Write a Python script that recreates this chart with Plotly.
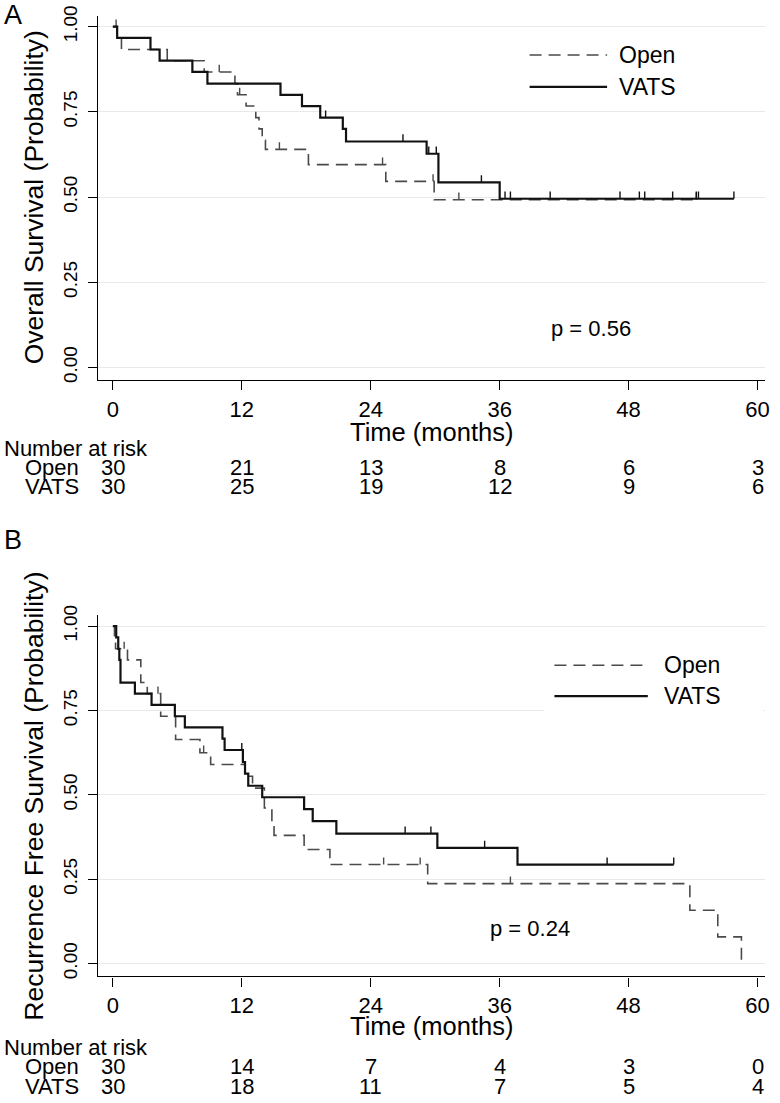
import plotly.graph_objects as go

W, H = 780, 1103
FONT = "Liberation Sans, Arial, Helvetica, sans-serif"

# ---------------- data ----------------
month_ticks = [0, 12, 24, 36, 48, 60]
surv_ticks = [0, 0.25, 0.5, 0.75, 1.0]
surv_ticklabels = ["0.00", "0.25", "0.50", "0.75", "1.00"]
groups = ["Open", "VATS"]

# Panel A: overall survival (event times in months, survival after the step)
os_open_t = [0.4, 0.8, 5.06, 8.5, 11.36, 11.6, 12.4, 13.3, 13.6, 13.9, 14.2, 18.2, 25.4, 29.9]
os_open_s = [0.967, 0.933, 0.900, 0.867, 0.833, 0.800, 0.767, 0.733, 0.700, 0.667, 0.640, 0.595, 0.546, 0.492]
os_open_end = 54.5
os_open_cens = [0.3, 9.9, 11.8, 15.5, 25.1, 29.8, 32.2, 54.3]

os_vats_t = [0.4, 3.5, 4.35, 7.4, 8.8, 15.6, 17.6, 19.3, 21.4, 21.7, 29.2, 30.3, 36.0]
os_vats_s = [0.967, 0.933, 0.900, 0.867, 0.833, 0.800, 0.767, 0.733, 0.700, 0.663, 0.627, 0.543, 0.495]
os_vats_end = 57.8
os_vats_cens = [19.8, 27.0, 29.4, 30.1, 34.3, 36.5, 37.0, 40.7, 47.2, 49.0, 49.5, 52.1, 54.3, 54.5, 57.8]

os_risk_open = [30, 21, 13, 8, 6, 3]
os_risk_vats = [30, 25, 19, 12, 9, 6]
os_pvalue = "p = 0.56"

# Panel B: recurrence free survival
rfs_open_t = [0.15, 0.25, 1.36, 2.6, 3.2, 4.45, 5.84, 8.1, 9.1, 12.3, 13.0, 14.1, 14.8, 15.0,
              17.8, 20.2, 29.3, 53.7, 56.3, 58.5]
rfs_open_s = [0.967, 0.933, 0.900, 0.833, 0.800, 0.733, 0.664, 0.625, 0.590, 0.555, 0.520, 0.461,
              0.420, 0.380, 0.338, 0.2935, 0.237, 0.158, 0.079, 0.0]
rfs_open_end = 58.5
rfs_open_cens = [1.05, 4.2, 8.45, 25.2, 28.6, 37.0]

rfs_vats_t = [0.31, 0.5, 0.6, 0.71, 2.05, 3.6, 5.77, 6.7, 10.2, 10.4, 12.1, 12.3, 12.6, 13.9,
              17.8, 18.6, 20.8, 30.2, 37.66]
rfs_vats_s = [0.967, 0.933, 0.900, 0.833, 0.800, 0.767, 0.733, 0.700, 0.667, 0.633, 0.597, 0.563,
              0.527, 0.493, 0.458, 0.422, 0.385, 0.343, 0.2935]
rfs_vats_end = 52.2
rfs_vats_cens = [12.0, 27.2, 29.6, 34.6, 46.0, 52.2]

rfs_risk_open = [30, 14, 7, 4, 3, 0]
rfs_risk_vats = [30, 18, 11, 7, 5, 4]
rfs_pvalue = "p = 0.24"

# ---------------- helpers ----------------
# layout positions are given in target-picture pixels; small vertical correction
# for the capture (content appears ~1% shorter and ~10px lower)
SY, OY = 0.991, 9.9

def px(x):
    return x / W

def py(y):
    return 1 - ((y - OY) / SY) / H

def step_xy(t, s, end):
    return [0] + list(t) + [end], [1.0] + list(s) + [s[-1]]

def level_at(t, s, c):
    lv = 1.0
    for ti, si in zip(t, s):
        if ti <= c:
            lv = si
    return lv

def cens_xy(t, s, cens, h):
    xs, ys = [], []
    for c in cens:
        lv = level_at(t, s, c)
        xs += [c, c, None]
        ys += [lv, lv + h, None]
    return xs, ys

OPEN_STYLE = dict(color="#4a4a4a", width=1.6, dash="12px,7px")
VATS_STYLE = dict(color="#111111", width=2.2)
TICK_H = 0.021

fig = go.Figure()

panels = [
    dict(xa="x", ya="y",
         curves=[(os_open_t, os_open_s, os_open_end, os_open_cens, OPEN_STYLE),
                 (os_vats_t, os_vats_s, os_vats_end, os_vats_cens, VATS_STYLE)]),
    dict(xa="x2", ya="y2",
         curves=[(rfs_open_t, rfs_open_s, rfs_open_end, rfs_open_cens, OPEN_STYLE),
                 (rfs_vats_t, rfs_vats_s, rfs_vats_end, rfs_vats_cens, VATS_STYLE)]),
]

for p in panels:
    for (t, s, end, cens, style) in p["curves"]:
        x, y = step_xy(t, s, end)
        fig.add_trace(go.Scatter(x=x, y=y, mode="lines", line=dict(shape="hv", **style),
                                 xaxis=p["xa"], yaxis=p["ya"], showlegend=False, hoverinfo="skip"))
        cx, cy = cens_xy(t, s, cens, TICK_H)
        fig.add_trace(go.Scatter(x=cx, y=cy, mode="lines",
                                 line=dict(color=style["color"], width=1.4),
                                 xaxis=p["xa"], yaxis=p["ya"], showlegend=False, hoverinfo="skip"))

# ---------------- axes ----------------
xdom = [px(99), px(770)]
common_x = dict(range=[-1.35, 60.7], tickvals=month_ticks, ticks="outside", ticklen=9,
                tickwidth=1.2, tickcolor="black", showline=True, linecolor="black", linewidth=1.3,
                showgrid=False, zeroline=False, domain=xdom,
                tickfont=dict(family=FONT, size=22, color="black"))
common_y = dict(tickvals=surv_ticks, ticktext=surv_ticklabels, tickangle=-90, ticks="outside",
                ticklen=9, tickwidth=1.2, tickcolor="black", showline=True, linecolor="black",
                linewidth=1.3, showgrid=True, gridcolor="#e9e9e9", gridwidth=1.2, zeroline=False,
                tickfont=dict(family=FONT, size=19, color="black"), ticklabelstandoff=4)

fig.update_layout(
    xaxis=dict(anchor="y", **common_x),
    yaxis=dict(anchor="x", domain=[py(381), py(16)], range=[-0.037, 1.031], **common_y),
    xaxis2=dict(anchor="y2", **common_x),
    yaxis2=dict(anchor="x2", domain=[py(979), py(617)], range=[-0.038, 1.032], **common_y),
)

# ---------------- annotations ----------------
ann = []

def text(x, y, s, size, xanchor="center", xref="paper", angle=0):
    ann.append(dict(x=x, y=y, xref=xref, yref="paper", text=s, showarrow=False,
                    xanchor=xanchor, yanchor="middle", textangle=angle,
                    font=dict(family=FONT, size=size, color="black")))

# panel letters
text(px(2), py(15), "A", 27, xanchor="left")
text(px(2), py(541), "B", 27, xanchor="left")

# axis titles
text(px(434), py(433), "Time (months)", 25.5)
text(px(434), py(1029), "Time (months)", 25.5)
text(px(34), py(198), "Overall Survival (Probability)", 26.5, angle=-90)
text(px(34), py(798), "Recurrence Free Survival (Probability)", 26.5, angle=-90)

# p-values
text(px(595), py(329), os_pvalue, 22)
text(px(533), py(931), rfs_pvalue, 22)

# number at risk tables
risk_tables = [
    ("x", 450, 469, 488, os_risk_open, os_risk_vats),
    ("x2", 1050, 1069, 1089, rfs_risk_open, rfs_risk_vats),
]
for xref, yh, yo, yv, r_open, r_vats in risk_tables:
    text(px(2), py(yh), "Number at risk", 22, xanchor="left")
    text(px(82), py(yo), groups[0], 22, xanchor="right")
    text(px(82), py(yv), groups[1], 22, xanchor="right")
    for m, a, b in zip(month_ticks, r_open, r_vats):
        text(m, py(yo), str(a), 22, xref=xref)
        text(m, py(yv), str(b), 22, xref=xref)

# legends (drawn manually, Stata style)
shapes = []
legends = [
    (533, 611, 621, 55, 87),
    (558, 652, 666, 667, 698),
]
# white legend box in panel B hides gridline
shapes.append(dict(type="rect", xref="paper", yref="paper", x0=px(547), x1=px(768),
                   y0=py(722), y1=py(645), fillcolor="white", line=dict(width=0), layer="above"))
for x0, x1, xt, yo, yv in legends:
    shapes.append(dict(type="line", xref="paper", yref="paper", x0=px(x0), x1=px(x1),
                       y0=py(yo), y1=py(yo), line=OPEN_STYLE, layer="above"))
    shapes.append(dict(type="line", xref="paper", yref="paper", x0=px(x0), x1=px(x1),
                       y0=py(yv), y1=py(yv), line=VATS_STYLE, layer="above"))
    text(px(xt), py(yo), groups[0], 23, xanchor="left")
    text(px(xt), py(yv), groups[1], 23, xanchor="left")

fig.update_layout(
    width=W, height=H, margin=dict(l=0, r=0, t=0, b=0),
    paper_bgcolor="white", plot_bgcolor="white",
    annotations=ann, shapes=shapes, showlegend=False,
    font=dict(family=FONT, color="black"),
)

POST = ("document.documentElement.style.margin='0';document.body.style.margin='0';"
        "document.documentElement.style.overflow='hidden';document.body.style.overflow='hidden';"
        "var g=document.getElementById('{plot_id}');g.style.position='fixed';"
        "g.style.left='0px';g.style.top='0px';")

fig.write_html("out.html", config={"displayModeBar": False}, post_script=POST)
